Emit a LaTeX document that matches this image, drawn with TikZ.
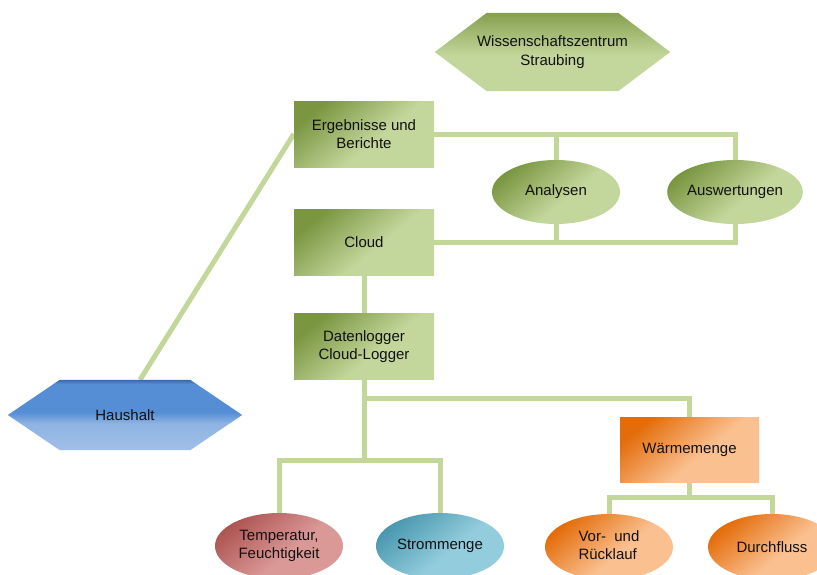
\documentclass[tikz,border=0pt]{standalone}
\usepackage{fontspec}
\setmainfont{Liberation Sans}
\usetikzlibrary{shapes.geometric,calc}
\definecolor{gL}{HTML}{C3D69B}
\definecolor{gD}{HTML}{7A9641}
\definecolor{connc}{HTML}{C4D79B}
\definecolor{rL}{HTML}{DA9896}
\definecolor{rD}{HTML}{AE5553}
\definecolor{bL}{HTML}{93CDDD}
\definecolor{bD}{HTML}{4A98AF}
\definecolor{oL}{HTML}{FAC090}
\definecolor{oD}{HTML}{E46C0A}
\definecolor{hT}{HTML}{3B69AC}
\definecolor{hM}{HTML}{558ED5}
\definecolor{hL}{HTML}{8FB4E3}
\definecolor{txt}{HTML}{111111}
\pgfdeclareverticalshading{haushade}{100bp}{color(0bp)=(hL); color(25bp)=(hL!85!white); color(44bp)=(hL); color(52bp)=(hM); color(72bp)=(hM); color(75bp)=(hT); color(100bp)=(hT)}
\pgfdeclareverticalshading{wzshade}{100bp}{color(0bp)=(gL); color(48bp)=(gL); color(75bp)=(gD!85!gL); color(100bp)=(gD!85!gL)}
\pgfdeclareverticalshading{gsh}{100bp}{color(0bp)=(gL); color(44bp)=(gL); color(75bp)=(gD); color(100bp)=(gD)}
\pgfdeclareverticalshading{rsh}{100bp}{color(0bp)=(rL); color(44bp)=(rL); color(75bp)=(rD); color(100bp)=(rD)}
\pgfdeclareverticalshading{bsh}{100bp}{color(0bp)=(bL); color(44bp)=(bL); color(75bp)=(bD); color(100bp)=(bD)}
\pgfdeclareverticalshading{osh}{100bp}{color(0bp)=(oL); color(44bp)=(oL); color(75bp)=(oD); color(100bp)=(oD)}
\pgfdeclarelayer{conns}
\pgfdeclarelayer{shapes}
\pgfsetlayers{conns,shapes,main}
\tikzset{
  lbl/.style={font=\fontsize{15}{18.5}\selectfont, text=txt, align=center, inner sep=0pt},
  grad/.style={shade, shading=#1, shading angle=40},
  gbox/.style={lbl, rectangle, minimum width=140, minimum height=66, grad=gsh},
  gell/.style={lbl, ellipse, minimum width=128, minimum height=64, grad=gsh},
  rell/.style={lbl, ellipse, minimum width=128, minimum height=66, grad=rsh},
  bell/.style={lbl, ellipse, minimum width=128, minimum height=66, grad=bsh},
  oell/.style={lbl, ellipse, minimum width=128, minimum height=66, grad=osh},
  obox/.style={lbl, rectangle, minimum width=139, minimum height=65, grad=osh},
  hexbox/.style={lbl, rectangle, minimum width=234, minimum height=72},
  connector/.style={draw=connc, line width=5pt},
}
\begin{document}
\begin{tikzpicture}[x=1pt,y=-1pt]
\clip (0,0) rectangle (817,574);
% nodes
\node[hexbox, minimum width=235, minimum height=78] (wz) at (552.5,52) {Wissenschaftszentrum\\Straubing};
\node[gbox] (erg) at (364,134) {Ergebnisse und\\Berichte};
\node[gbox] (cloud) at (364,242.5) {Cloud};
\node[gbox] (dl) at (364,346.5) {Datenlogger\\Cloud-Logger};
\node[gell] (ana) at (556,192) {Analysen};
\node[gell, minimum width=126] (ausw) at (735,192) {Auswertungen};
\node[hexbox, minimum height=70] (haus) at (125,415) {Haushalt};
\node[obox] (wm) at (689.5,449.5) {Wärmemenge};
\node[rell] (temp) at (279,546) {Temperatur,\\Feuchtigkeit};
\node[bell] (strom) at (440,546) {Strommenge};
\node[oell] (vor) at (609,547) {\begin{tabular}{@{}l@{}}Vor-\ \ und\\Rücklauf\end{tabular}};
\node[oell] (durch) at (772,547) {Durchfluss};
% hexagon shapes
\begin{pgfonlayer}{shapes}
\shade[shading=wzshade]
  (wz.west) -- ($(wz.north west)+(52,0)$) -- ($(wz.north east)+(-52,0)$) -- (wz.east)
  -- ($(wz.south east)+(-52,0)$) -- ($(wz.south west)+(52,0)$) -- cycle;
\shade[shading=haushade]
  (haus.west) -- ($(haus.north west)+(52,0)$) -- ($(haus.north east)+(-52,0)$) -- (haus.east)
  -- ($(haus.south east)+(-52,0)$) -- ($(haus.south west)+(52,0)$) -- cycle;
\end{pgfonlayer}
% connectors
\coordinate (j1) at (364,398);
\coordinate (j2) at (364,460);
\coordinate (j3) at (689.5,497);
\begin{pgfonlayer}{conns}
\draw[connector] ($(haus.north)+(15,0)$) -- (erg.west);
\draw[connector] (erg.east) -| (ausw.north);
\draw[connector] (ana.north) -- (ana.north |- erg.east);
\draw[connector] (cloud.east) -| (ausw.south);
\draw[connector] (ana.south) -- (ana.south |- cloud.east);
\draw[connector] (cloud.south) -- (dl.north);
\draw[connector] (dl.south) -- (j2);
\draw[connector] (j1) -| (wm.north);
\draw[connector] (temp.north) |- (j2) -| (strom.north);
\draw[connector] (wm.south) -- (j3);
\draw[connector] (vor.north) |- (j3) -| (durch.north);
\end{pgfonlayer}
\end{tikzpicture}
\end{document}
